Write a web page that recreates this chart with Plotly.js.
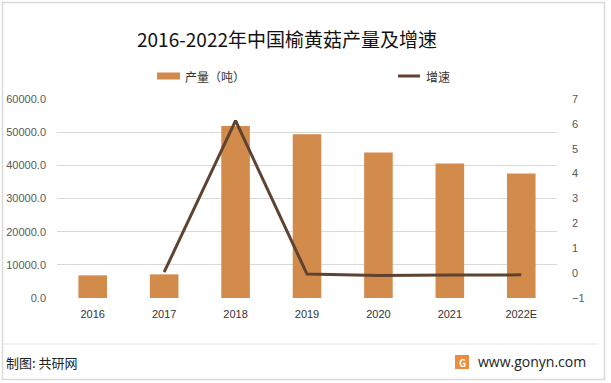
<!DOCTYPE html>
<html>
<head>
<meta charset="utf-8">
<script src="https://cdn.plot.ly/plotly-3.0.1.min.js"></script>
<style>
html,body{margin:0;padding:0;background:#fff;}
#chart{width:611px;height:383px;}
</style>
</head>
<body>
<div id="chart"></div>
<script>
const years = ["2016", "2017", "2018", "2019", "2020", "2021", "2022E"];
const production = [6830, 7130, 51840, 49400, 43900, 40570, 37550];
const growth = [null, 0.04, 6.13, -0.04, -0.1, -0.08, -0.07];
const leftTicks = [0, 10000, 20000, 30000, 40000, 50000, 60000];
const rightTicks = [-1, 0, 1, 2, 3, 4, 5, 6, 7];

const FONT = "'Noto Sans CJK SC', 'Noto Sans', sans-serif";
// pixel -> paper helpers (plot area: x 57..557, y 99..298)
const PL = 57, PR = 557, PT = 99, PB = 298;
const px = v => (v - PL) / (PR - PL);
const py = v => (PB - v) / (PB - PT);

const traces = [
  {
    type: 'bar', x: years, y: production, name: '产量（吨）',
    marker: {color: '#D38B4C'}, yaxis: 'y', hoverinfo: 'x+y'
  },
  {
    type: 'scatter', mode: 'lines', x: years, y: growth, name: '增速',
    line: {color: '#5E4330', width: 3}, yaxis: 'y2', connectgaps: false
  }
];

const shapes = [
  // outer frame
  {type: 'rect', xref: 'paper', yref: 'paper', x0: px(2.5), x1: px(604.5), y0: py(379.5), y1: py(2.5),
   line: {color: '#D9D9D9', width: 1.5}, fillcolor: 'rgba(0,0,0,0)'},
  // footer separator
  {type: 'line', xref: 'paper', yref: 'paper', x0: px(3), x1: px(598), y0: py(344), y1: py(344),
   line: {color: '#E6E6E6', width: 1}},
  // legend swatches
  {type: 'rect', xref: 'paper', yref: 'paper', x0: px(157), x1: px(180), y0: py(79.5), y1: py(72.5),
   line: {width: 0}, fillcolor: '#D38B4C'},
  {type: 'line', xref: 'paper', yref: 'paper', x0: px(398), x1: px(420), y0: py(76), y1: py(76),
   line: {color: '#5E4330', width: 3}},
  // logo
  {type: 'rect', xref: 'paper', yref: 'paper', x0: px(455), x1: px(469), y0: py(369), y1: py(355),
   line: {width: 0}, fillcolor: '#F08A3C'}
];

const annotations = [
  {xref: 'paper', yref: 'paper', x: px(183), y: py(76), xanchor: 'left', yanchor: 'middle',
   text: '产量（吨）', showarrow: false, font: {family: FONT, size: 12, color: '#333'}},
  {xref: 'paper', yref: 'paper', x: px(424), y: py(76), xanchor: 'left', yanchor: 'middle',
   text: '增速', showarrow: false, font: {family: FONT, size: 12, color: '#333'}},
  {xref: 'paper', yref: 'paper', x: px(4), y: py(362), xanchor: 'left', yanchor: 'middle',
   text: '制图: 共研网', showarrow: false, font: {family: FONT, size: 13, color: '#222'}},
  {xref: 'paper', yref: 'paper', x: px(476), y: py(361), xanchor: 'left', yanchor: 'middle',
   text: 'www.gonyn.com', showarrow: false, font: {family: "'Open Sans', 'Noto Sans', sans-serif", size: 14, color: '#222'}},
  {xref: 'paper', yref: 'paper', x: px(462), y: py(362), xanchor: 'center', yanchor: 'middle',
   text: '<b>G</b>', showarrow: false, font: {family: FONT, size: 10, color: '#fff'}}
];

const layout = {
  width: 611, height: 383,
  margin: {l: PL, r: 611 - PR, t: PT, b: 383 - PB, pad: 0},
  paper_bgcolor: '#fff', plot_bgcolor: '#fff',
  showlegend: false,
  bargap: 0.6,
  title: {
    text: '2016-2022年中国榆黄菇产量及增速',
    font: {family: FONT, size: 19, color: '#111'},
    x: 287 / 611, xanchor: 'center', xref: 'container',
    y: 1 - 40 / 383, yanchor: 'middle', yref: 'container'
  },
  xaxis: {
    type: 'category', showgrid: false, zeroline: false, showline: false, ticks: '',
    tickfont: {family: "'Liberation Sans', 'Noto Sans', sans-serif", size: 11, color: '#333'},
    ticklabelstandoff: 8, fixedrange: true
  },
  yaxis: {
    range: [0, 60000], tickvals: leftTicks, tickformat: '.1f',
    showgrid: true, gridcolor: '#D9D9D9', gridwidth: 1, zeroline: false, showline: false, ticks: '',
    tickfont: {family: "'Liberation Sans', 'Noto Sans', sans-serif", size: 11, color: '#595959'},
    ticklabelstandoff: 10, fixedrange: true
  },
  yaxis2: {
    overlaying: 'y', side: 'right', range: [-1, 7], tickvals: rightTicks,
    showgrid: false, zeroline: false, showline: false, ticks: '',
    tickfont: {family: "'Liberation Sans', 'Noto Sans', sans-serif", size: 11, color: '#595959'},
    ticklabelstandoff: 14, fixedrange: true
  },
  shapes: shapes,
  annotations: annotations
};

Plotly.newPlot('chart', traces, layout, {displayModeBar: false, staticPlot: true});
</script>
</body>
</html>
